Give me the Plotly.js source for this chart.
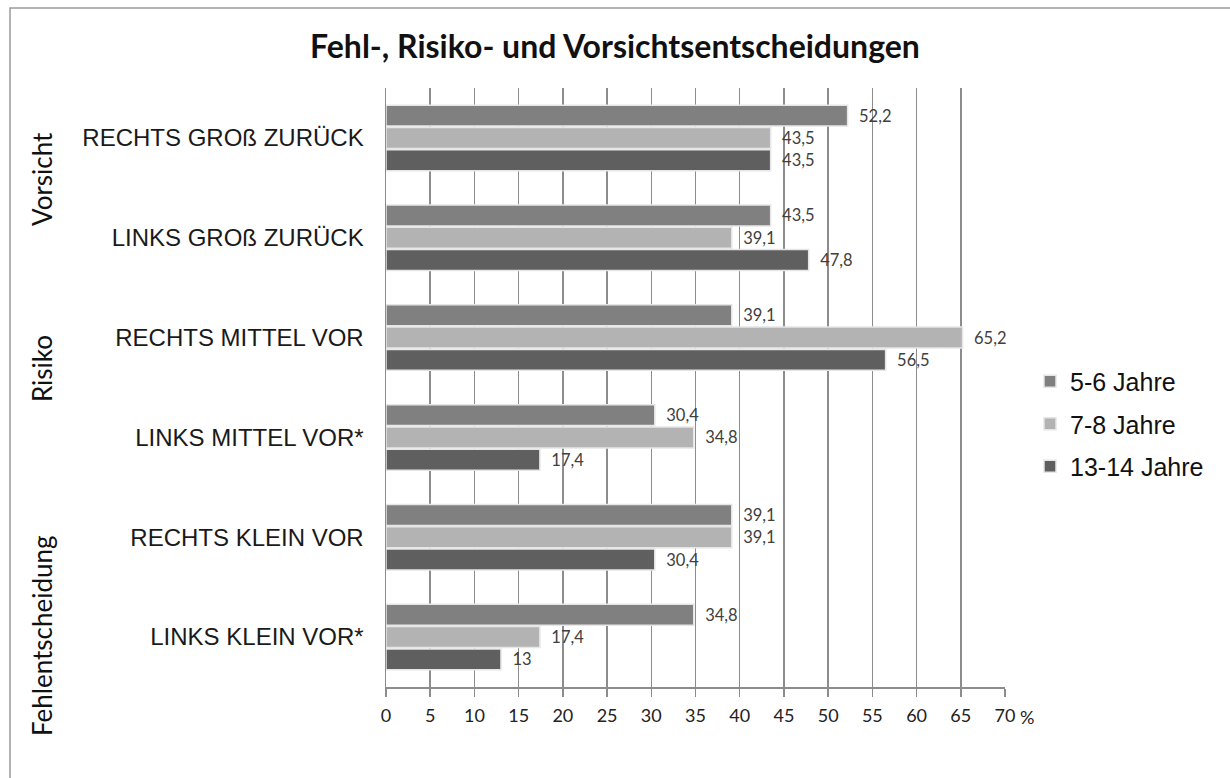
<!DOCTYPE html>
<html><head><meta charset="utf-8">
<script src="https://cdn.plot.ly/plotly-3.0.1.min.js"></script>
<style>html,body{margin:0;padding:0;background:#fff}#chart{width:1230px;height:778px}</style>
</head><body><div id="chart"></div>
<script>
const categories = ["RECHTS GROß ZURÜCK","LINKS GROß ZURÜCK","RECHTS MITTEL VOR","LINKS MITTEL VOR*","RECHTS KLEIN VOR","LINKS KLEIN VOR*"];
const seriesNames = ["5-6 Jahre","7-8 Jahre","13-14 Jahre"];
const age56 = [52.2, 43.5, 39.1, 30.4, 39.1, 34.8];
const age78 = [43.5, 39.1, 65.2, 34.8, 39.1, 17.4];
const age1314 = [43.5, 47.8, 56.5, 17.4, 30.4, 13];
const xTickVals = [0,5,10,15,20,25,30,35,40,45,50,55,60,65,70];
const xTickText = ["0","5","10","15","20","25","30","35","40","45","50","55","60","65","70"];
const groupLabels = ["Vorsicht","Risiko","Fehlentscheidung"];
const colors = ["#808080","#b3b3b3","#5f5f5f"];

const fmt = v => String(v).replace('.', ',');
const seriesVals = [age56, age78, age1314];
const traces = seriesVals.map((vals, i) => ({
  type: 'bar', orientation: 'h', name: seriesNames[i],
  y: categories, x: vals,
  text: vals.map(fmt), texttemplate: '\u00a0\u00a0%{text}', textposition: 'outside', cliponaxis: false, constraintext: 'none',
  textfont: {family: 'Lato, sans-serif', size: 16.5, color: '#404040'},
  marker: {color: colors[i], line: {color: '#e6e6e6', width: 1.5}},
  legendgroup: 'g' + i, hoverinfo: 'x+name'
}));

const L = 386, R = 1005, T = 88, B = 687;
const pw = R - L, ph = B - T;
const px = v => (v - L) / pw;
const py = v => (B - v) / ph;

const groupFont = {family: 'Lato, sans-serif', size: 26, color: '#111'};
const layout = {
  width: 1230, height: 778,
  margin: {l: L, r: 1230 - R, t: T, b: 778 - B},
  paper_bgcolor: '#fff', plot_bgcolor: '#fff',
  title: {text: 'Fehl-, Risiko- und Vorsichtsentscheidungen', x: 0.5, xref: 'container', xanchor: 'center', y: 1 - 47/778, yanchor: 'middle',
          font: {family: 'Lato, sans-serif', size: 32, color: '#111', weight: 700}},
  barmode: 'group', bargap: 0.33, bargroupgap: 0.06,
  xaxis: {range: [0, 70], tickvals: xTickVals, ticktext: xTickText,
          showgrid: true, gridcolor: '#8c8c8c', gridwidth: 1.5,
          showline: true, linecolor: '#8c8c8c', linewidth: 1.5,
          ticks: 'outside', ticklen: 8, tickcolor: '#8c8c8c', tickwidth: 1.5, ticklabelstandoff: 4,
          tickfont: {family: 'Lato, sans-serif', size: 18, color: '#222'}, zeroline: false, fixedrange: true},
  yaxis: {autorange: 'reversed', showline: true, linecolor: '#8c8c8c', linewidth: 1.5, showgrid: false,
          ticks: '', ticklabelstandoff: 16,
          tickfont: {family: '"Liberation Sans", Arial, sans-serif', size: 24, color: '#1a1a1a'}, fixedrange: true},
  legend: {x: px(1030), xanchor: 'left', y: py(424), yanchor: 'middle', traceorder: 'grouped', tracegroupgap: 7,
           font: {family: '"Liberation Sans", Arial, sans-serif', size: 25, color: '#111'}, itemwidth: 30, bgcolor: 'rgba(0,0,0,0)'},
  annotations: [
    {text: '%', xref: 'x', x: 70, xshift: 22, yref: 'paper', y: 0, yshift: -30, yanchor: 'middle', showarrow: false,
     font: {family: 'Lato, sans-serif', size: 18, color: '#222'}},
    {text: groupLabels[0], xref: 'paper', x: px(42), xanchor: 'center', yref: 'paper', y: py(179), yanchor: 'middle', textangle: -90, showarrow: false, font: groupFont},
    {text: groupLabels[1], xref: 'paper', x: px(42), xanchor: 'center', yref: 'paper', y: py(369), yanchor: 'middle', textangle: -90, showarrow: false, font: groupFont},
    {text: groupLabels[2], xref: 'paper', x: px(42), xanchor: 'center', yref: 'paper', y: py(636), yanchor: 'middle', textangle: -90, showarrow: false, font: groupFont}
  ],
  shapes: [
    {type: 'path', xref: 'paper', yref: 'paper', path: `M ${px(10)} ${py(778)} L ${px(10)} ${py(8)} L ${px(1230)} ${py(8)}`,
     line: {color: '#9a9a9a', width: 1.5}}
  ],
  showlegend: true
};

Plotly.newPlot('chart', traces, layout, {displayModeBar: false, staticPlot: true});
</script></body></html>
